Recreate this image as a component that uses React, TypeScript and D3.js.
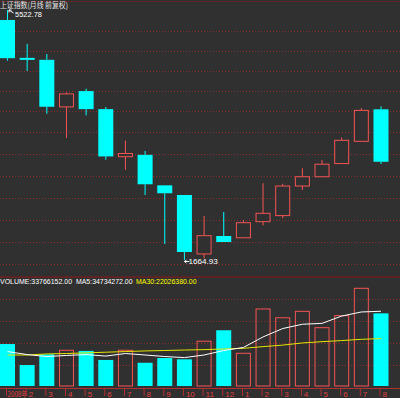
import React from 'react';
import * as d3 from 'd3';

// monthly candles, 2008-01 .. 2009-08
const months = ['2008年', '2', '3', '4', '5', '6', '7', '8', '9', '10', '11', '12', '1', '2', '3', '4', '5', '6', '7', '8'];
const open = [5265, 4390, 4349, 3470, 3743, 3433, 2733, 2757, 2382, 2274, 1714, 1868, 1852, 2001, 2060, 2374, 2482, 2644, 2942, 3430];
const high = [5522.78, 4695, 4472, 3720, 3786, 3470, 2952, 2810, 2382, 2274, 2056, 2096, 2017, 2406, 2400, 2585, 2689, 2997, 3450, 3478];
const low = [4330, 4123, 3357, 2990, 3333, 2693, 2566, 2274, 1798, 1664.93, 1678, 1815, 1850, 1965, 2034, 2329, 2480, 2640, 2940, 2639];
const close = [4383, 4348, 3472, 3693, 3433, 2736, 2775, 2394, 2293, 1730, 1871, 1815, 1991, 2083, 2374, 2482, 2636, 2956, 3412, 2667];

const volume = [19500000, 9750000, 14700000, 16600000, 16300000, 12100000, 16600000, 10800000, 13000000, 12400000,
    20800000, 25900000, 15200000, 35800000, 31700000, 34700000, 27100000, 32700000, 45400000, 33766152];
const ma5 = [16.0, 14.6, 13.7, 14.2, 14.6, 13.9, 15.1, 14.4, 13.7, 13.2, 14.4, 16.5, 17.9, 22.8, 26.7, 28.7, 29.1, 32.5, 34.4, 34.734272];
const ma30 = [14.4, 14.4, 14.9, 15.1, 15.4, 15.7, 16.0, 16.3, 16.5, 16.7, 16.9, 17.2, 17.5, 18.3, 19.0, 20.0, 20.6, 21.1, 21.7, 22.02638];

const BG = '#303030';
const UP = '#f45454';
const DOWN = '#00ffff';
const GRID = '#8a2c2c';
const FONT = '"Liberation Sans", Arial, sans-serif';

// layout rows for the dotted grid (pixels)
const priceGridRows = [31, 51, 71, 91, 111, 132, 154, 176, 198, 220, 242, 264];
const volGridRows = [299.5, 321.5, 343.5, 365.5];

const App: React.FC = () => {
    const width = 400;
    const height = 398;
    const idx = d3.range(months.length);

    const x = d3.scalePoint<number>().domain(idx).range([7.5, 381]);
    const y = d3.scaleLog().domain([1664.93, 5522.78]).range([260, 10]);
    const yv = d3.scaleLinear().domain([0, d3.max(volume) as number]).range([386, 288.3]);
    const bw = 15;

    const maLine = d3.line<number>()
        .x((_, i) => x(i) as number)
        .y(d => yv(d * 1e6));

    const hiIdx = d3.maxIndex(high);
    const loIdx = d3.minIndex(low);
    const hx = x(hiIdx) as number;
    const hy = y(high[hiIdx]);
    const lx = x(loIdx) as number;
    const ly = y(low[loIdx]);

    return (
        <svg width={width} height={height}
            style={{ position: 'absolute', left: 0, top: 0, display: 'block', background: BG }}>
            <rect width={width} height={height} fill={BG} />

            {/* borders */}
            <line x1={0} x2={width} y1={1.5} y2={1.5} stroke="#5e2626" strokeWidth={1} />
            <line x1={0} x2={width} y1={277} y2={277} stroke="#5e2424" strokeWidth={2} />

            {/* dotted grid */}
            {priceGridRows.map(r => (
                <line key={'g' + r} x1={0} x2={width} y1={r + 0.5} y2={r + 0.5}
                    stroke={GRID} strokeDasharray="1 2" />
            ))}
            {volGridRows.map(r => (
                <line key={'v' + r} x1={0} x2={width} y1={r} y2={r}
                    stroke={GRID} strokeDasharray="1 2" />
            ))}

            {/* candles */}
            {idx.map(i => {
                const cx = x(i) as number;
                const up = close[i] >= open[i];
                const col = up ? UP : DOWN;
                const top = y(Math.max(open[i], close[i]));
                const bot = y(Math.min(open[i], close[i]));
                const h = Math.max(bot - top, 1.5);
                return (
                    <g key={'c' + i}>
                        <line x1={cx} x2={cx} y1={y(high[i])} y2={top} stroke={col} />
                        <line x1={cx} x2={cx} y1={top + h} y2={y(low[i])} stroke={col} />
                        {up ? (
                            <rect x={cx - bw / 2 + 0.5} y={top} width={bw - 1} height={h}
                                fill={BG} stroke={col} strokeWidth={1} />
                        ) : (
                            <rect x={cx - bw / 2} y={top} width={bw} height={h} fill={col} />
                        )}
                    </g>
                );
            })}

            {/* title + high/low marks */}
            <text x={0} y={8} fontSize={8} fill="#e6e6e6" textLength={68} lengthAdjust="spacingAndGlyphs"
                fontFamily='"Noto Sans CJK SC", sans-serif'>上证指数(月线 前复权)</text>
            <path d={`M${hx + 6},${hy + 3} L${hx + 1.5},${hy} M${hx + 1.5},${hy} l0,2.5 M${hx + 1.5},${hy} l2.5,0`}
                stroke="#ffffff" fill="none" strokeWidth={1} />
            <text x={hx + 7.5} y={hy + 7.3} fontSize={7} fill="#ffffff" fontFamily={FONT}
                textLength={27} lengthAdjust="spacingAndGlyphs">{high[hiIdx].toFixed(2)}</text>
            <path d={`M${lx},${ly + 1.5} l5,0 M${lx},${ly + 1.5} l2,-1.5 M${lx},${ly + 1.5} l2,1.5`}
                stroke="#ffffff" fill="none" strokeWidth={1} />
            <text x={lx + 4} y={ly + 4} fontSize={7} fill="#ffffff" fontFamily={FONT}
                textLength={29.5} lengthAdjust="spacingAndGlyphs">{low[loIdx].toFixed(2)}</text>

            {/* volume header */}
            <text y={284} fontSize={7.5} fontFamily={FONT}>
                <tspan x={0} fill="#ffffff" textLength={72} lengthAdjust="spacingAndGlyphs">VOLUME:{volume[volume.length - 1].toFixed(2)}</tspan>
                <tspan x={76} fill="#ffffff" textLength={56.5} lengthAdjust="spacingAndGlyphs">MA5:{(ma5[ma5.length - 1] * 1e6).toFixed(2)}</tspan>
                <tspan x={136} fill="#ffff00" textLength={60.5} lengthAdjust="spacingAndGlyphs">MA30:{(ma30[ma30.length - 1] * 1e6).toFixed(2)}</tspan>
            </text>

            {/* volume bars */}
            {idx.map(i => {
                const cx = x(i) as number;
                const up = close[i] >= open[i];
                const top = yv(volume[i]);
                return up ? (
                    <rect key={'vb' + i} x={cx - bw / 2 + 0.5} y={top} width={bw - 1} height={yv(0) - top}
                        fill="none" stroke={UP} strokeWidth={1} />
                ) : (
                    <rect key={'vb' + i} x={cx - bw / 2} y={top} width={bw} height={yv(0) - top} fill={DOWN} />
                );
            })}

            {/* moving averages */}
            <path d={maLine(ma30) || ''} fill="none" stroke="#e6e600" strokeWidth={1} />
            <path d={maLine(ma5) || ''} fill="none" stroke="#ffffff" strokeWidth={1} />

            {/* bottom axis */}
            <line x1={0} x2={width} y1={388.5} y2={388.5} stroke="#b03030" strokeWidth={1} />
            {idx.map(i => {
                const cx = x(i) as number;
                return (
                    <g key={'t' + i}>
                        <line x1={cx - 1} x2={cx - 1} y1={388} y2={396} stroke="#b03030" />
                        <text x={i === 0 ? cx : cx + 1.5} y={397} fontSize={8} fill="#e04040"
                            fontFamily={i === 0 ? '"Noto Sans CJK SC", sans-serif' : FONT}
                            textLength={i === 0 ? 20 : undefined} lengthAdjust="spacingAndGlyphs">{months[i]}</text>
                    </g>
                );
            })}
        </svg>
    );
};

export default App;
